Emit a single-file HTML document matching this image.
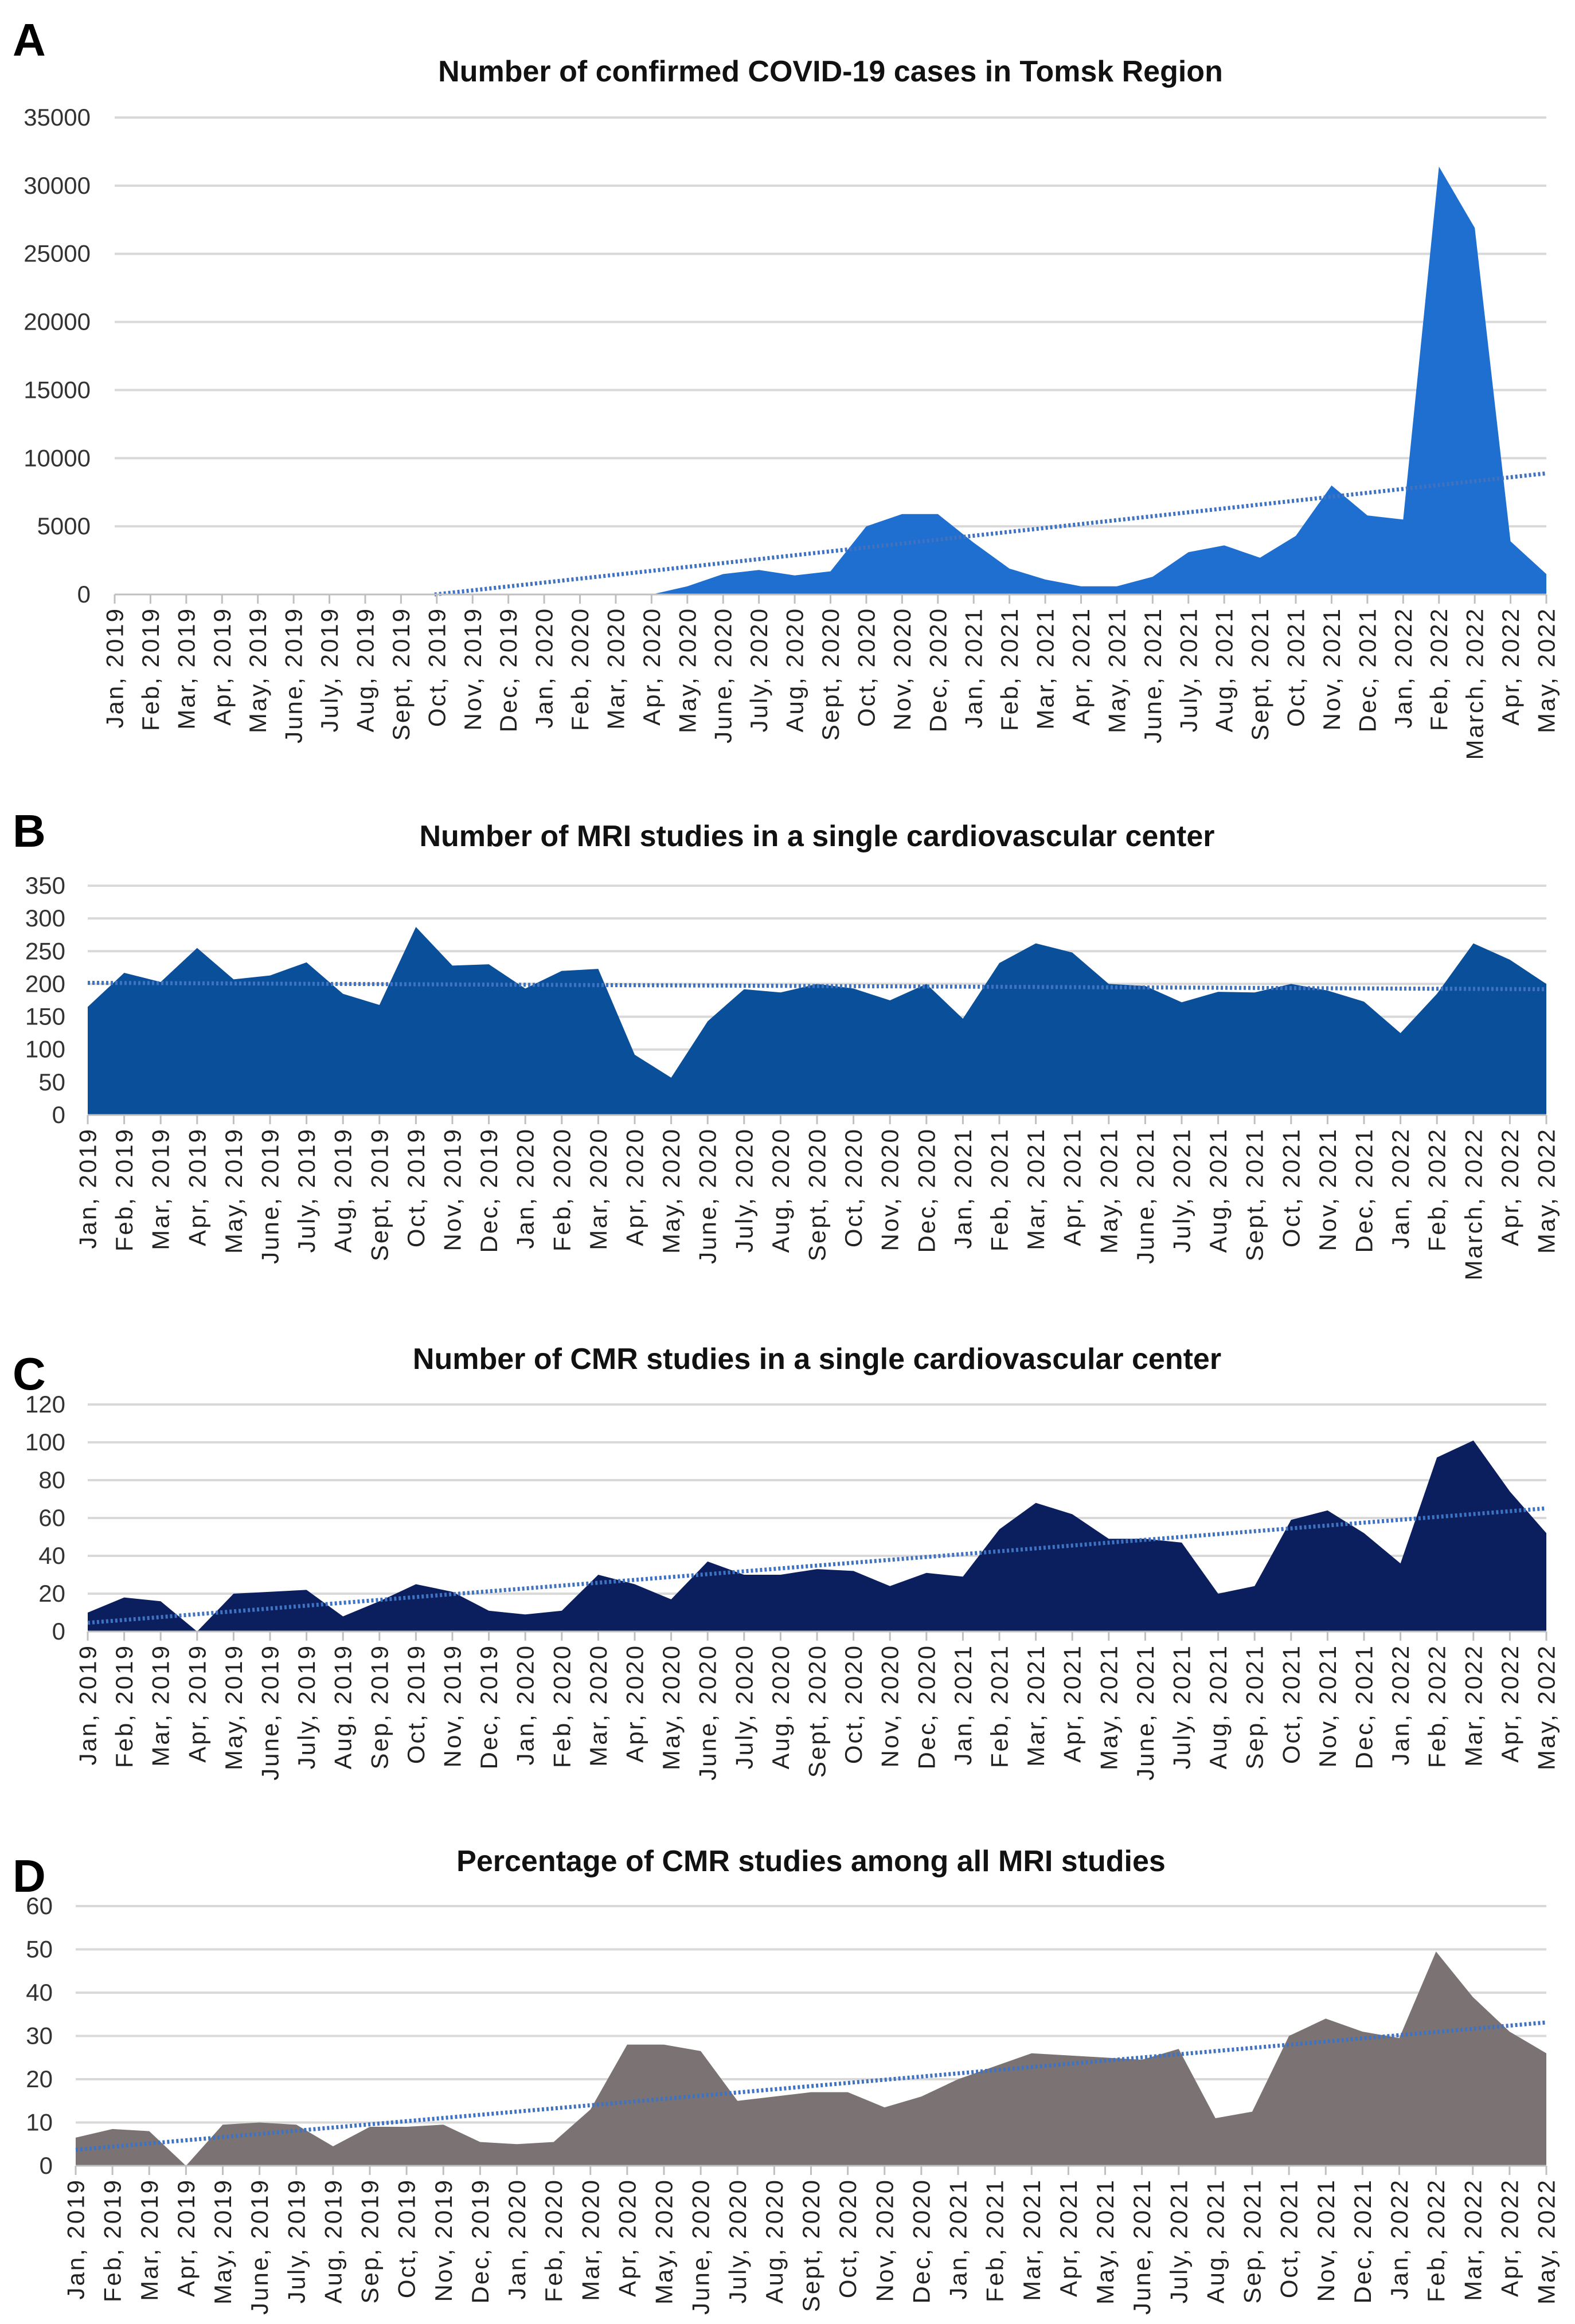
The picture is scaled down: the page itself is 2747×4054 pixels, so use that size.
<!DOCTYPE html>
<html><head><meta charset="utf-8">
<style>
html,body{margin:0;padding:0;background:#fff;}
svg{display:block;}
.ttl{font-family:"Liberation Sans Narrow","Liberation Sans",sans-serif;font-weight:bold;font-size:52px;fill:#111;}
.let{font-family:"Liberation Sans",sans-serif;font-weight:bold;font-size:80px;fill:#000;}
.yt{font-family:"Liberation Sans Narrow","Liberation Sans",sans-serif;font-size:42px;fill:#333;}
.xt{font-family:"Liberation Sans",sans-serif;font-size:42px;letter-spacing:3px;fill:#222;}
</style></head>
<body>
<svg id="fig" width="2747" height="4054" viewBox="0 0 2747 4054" xmlns="http://www.w3.org/2000/svg">
<rect width="2747" height="4054" fill="#fff"/>
</svg>
<script>
const monthsAB = ["Jan, 2019","Feb, 2019","Mar, 2019","Apr, 2019","May, 2019","June, 2019","July, 2019","Aug, 2019","Sept, 2019","Oct, 2019","Nov, 2019","Dec, 2019","Jan, 2020","Feb, 2020","Mar, 2020","Apr, 2020","May, 2020","June, 2020","July, 2020","Aug, 2020","Sept, 2020","Oct, 2020","Nov, 2020","Dec, 2020","Jan, 2021","Feb, 2021","Mar, 2021","Apr, 2021","May, 2021","June, 2021","July, 2021","Aug, 2021","Sept, 2021","Oct, 2021","Nov, 2021","Dec, 2021","Jan, 2022","Feb, 2022","March, 2022","Apr, 2022","May, 2022"];
const monthsCD = ["Jan, 2019","Feb, 2019","Mar, 2019","Apr, 2019","May, 2019","June, 2019","July, 2019","Aug, 2019","Sep, 2019","Oct, 2019","Nov, 2019","Dec, 2019","Jan, 2020","Feb, 2020","Mar, 2020","Apr, 2020","May, 2020","June, 2020","July, 2020","Aug, 2020","Sept, 2020","Oct, 2020","Nov, 2020","Dec, 2020","Jan, 2021","Feb, 2021","Mar, 2021","Apr, 2021","May, 2021","June, 2021","July, 2021","Aug, 2021","Sep, 2021","Oct, 2021","Nov, 2021","Dec, 2021","Jan, 2022","Feb, 2022","Mar, 2022","Apr, 2022","May, 2022"];

const covidCases = [0,0,0,0,0,0,0,0,0,0,0,0,0,0,0,0,600,1500,1800,1400,1700,5000,5900,5900,3800,1900,1100,600,600,1300,3100,3600,2700,4300,8000,5800,5500,31400,26900,3900,1500];
const covidTicks = [0,5000,10000,15000,20000,25000,30000,35000];

const mriStudies = [165,217,203,255,207,213,233,185,168,287,228,230,193,220,223,92,57,143,192,187,200,193,175,200,147,232,262,248,200,197,172,188,187,200,190,173,125,185,262,237,200];
const mriTicks = [0,50,100,150,200,250,300,350];

const cmrStudies = [10,18,16,0,20,21,22,8,16,25,21,11,9,11,30,25,17,37,30,30,33,32,24,31,29,54,68,62,49,49,47,20,24,59,64,52,36,92,101,74,52];
const cmrTicks = [0,20,40,60,80,100,120];

const cmrPercent = [6.5,8.5,8,0,9.5,10,9.5,4.5,9,9,9.5,5.5,5,5.5,13,28,28,26.5,15,16,17,17,13.5,16,20,23,26,25.5,25,24.5,27,11,12.5,30,34,31,29.5,49.5,39,31,26];
const pctTicks = [0,10,20,30,40,50,60];

const NS = "http://www.w3.org/2000/svg";
const svg = document.getElementById('fig');
function mk(tag, attrs, parent){const e=document.createElementNS(NS,tag);for(const k in attrs)e.setAttribute(k,attrs[k]);(parent||svg).appendChild(e);return e;}

function panel(cfg){
  const g = mk('g',{});
  
  
  const {x0,x1,yTop,yBot,ticks,vals,labels,color} = cfg;
  const vmax = ticks[ticks.length-1];
  const n = vals.length;
  const xs = i => x0 + (x1-x0)*i/(n-1);
  const ys = v => yBot - (yBot-yTop)*v/vmax;
  const L = mk('text',{x:cfg.letX,y:cfg.letY,class:'let'},g); L.textContent=cfg.letter;
  
  
  const T = mk('text',{x:(x0+x1)/2,y:cfg.titleY,class:'ttl','text-anchor':'middle'},g); T.textContent=cfg.title;
  
  
  ticks.forEach(t=>{
    if(t>0){
      const gl = mk('line',{x1:x0,x2:x1,y1:ys(t),y2:ys(t),stroke:'#d9d9d9','stroke-width':4},g);
      
      
    }
    const tt = mk('text',{x:cfg.yLabX,y:ys(t)+14,class:'yt','text-anchor':'end'},g); tt.textContent=t;
    
    
  });
  let d = `M${xs(0)},${yBot}`;
  vals.forEach((v,i)=>{d+=` L${xs(i)},${ys(v)}`;});
  d += ` L${xs(n-1)},${yBot} Z`;
  const area = mk('path',{d:d,fill:color},g);
  
  
  let sx=0,sy=0,sxy=0,sxx=0;
  vals.forEach((v,i)=>{sx+=i;sy+=v;sxy+=i*v;sxx+=i*i;});
  const b=(n*sxy-sx*sy)/(n*sxx-sx*sx), a=(sy-b*sx)/n;
  let i0=0;
  if(a<0){ i0 = -a/b; }
  const tr = mk('line',{x1:xs(i0),y1:ys(a+b*i0),x2:xs(n-1),y2:ys(a+b*(n-1)),stroke:'#3f72c0','stroke-width':7,'stroke-dasharray':'4 4'},g);
  
  
  const ax = mk('line',{x1:x0,x2:x1,y1:yBot,y2:yBot,stroke:'#bfbfbf','stroke-width':3},g);
  
  
  labels.forEach((lb,i)=>{
    const tk = mk('line',{x1:xs(i),x2:xs(i),y1:yBot,y2:yBot+16,stroke:'#bfbfbf','stroke-width':3},g);
    
    
    const tx = mk('text',{x:0,y:0,class:'xt','text-anchor':'end','dominant-baseline':'central',transform:`translate(${xs(i)},${yBot+22}) rotate(-90)`},g);
    tx.textContent=lb;
    
    
  });
}

panel({key:'covid',letter:'A',letX:22,letY:97,title:'Number of confirmed COVID-19 cases  in Tomsk Region',titleY:142,x0:200,x1:2697,yTop:205,yBot:1037,ticks:covidTicks,vals:covidCases,labels:monthsAB,color:'#1f6fd0',yLabX:158});
panel({key:'mri',letter:'B',letX:22,letY:1477,title:'Number of MRI studies  in a single cardiovascular center',titleY:1476,x0:153,x1:2697,yTop:1545,yBot:1945,ticks:mriTicks,vals:mriStudies,labels:monthsAB,color:'#0a4f9a',yLabX:114});
panel({key:'cmr',letter:'C',letX:22,letY:2424,title:'Number of CMR studies  in a single cardiovascular center',titleY:2388,x0:153,x1:2697,yTop:2450,yBot:2846,ticks:cmrTicks,vals:cmrStudies,labels:monthsCD,color:'#0b1f5e',yLabX:114});
panel({key:'pct',letter:'D',letX:22,letY:3300,title:'Percentage of CMR studies  among all MRI studies',titleY:3264,x0:132,x1:2697,yTop:3325,yBot:3778,ticks:pctTicks,vals:cmrPercent,labels:monthsCD,color:'#7b7373',yLabX:92});
</script>
</body></html>
